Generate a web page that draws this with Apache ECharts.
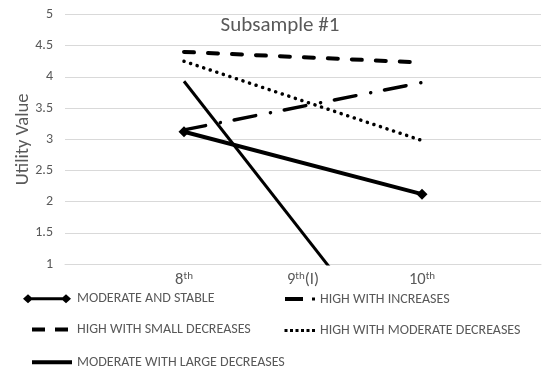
<!DOCTYPE html>
<html>
<head>
<meta charset="utf-8">
<script src="https://cdn.jsdelivr.net/npm/echarts@6/dist/echarts.min.js"></script>
<style>
  html, body { margin: 0; padding: 0; background: #ffffff; }
  #chart { width: 544px; height: 373px; }
</style>
</head>
<body>
<div id="chart"></div>
<script>
// Grades on the x axis
const grades = ['8th', '9th(I)', '10th'];

// Utility value per profile (9th grade not observed -> null, line joins 8th and 10th)
const moderateStable         = [3.12, null, 2.12];
const highIncreases          = [3.15, null, 3.91];
const highSmallDecreases     = [4.40, null, 4.23];
const highModerateDecreases  = [4.25, null, 2.98];
const moderateLargeDecreases = [3.93, null, -0.95];

const seriesNames = [
  'MODERATE AND STABLE',
  'HIGH WITH INCREASES',
  'HIGH WITH SMALL DECREASES',
  'HIGH WITH MODERATE DECREASES',
  'MODERATE WITH LARGE DECREASES'
];

// Value axis range
const yMin = 1, yMax = 5, yStep = 0.5;

const chartTitle = 'Subsample #1';
const yAxisTitle = 'Utility Value';

// ---- build the chart ----
const pad = v => [null, ...v, null];           // empty slots either side of the grades
const axisCats = ['', ...grades, ''];

const GRAY = '#595959';
const FONT = 'Carlito, "Liberation Sans", Arial, sans-serif';

// tiny corner specks so each legend icon keeps its full box
const box = (w, h) => `M0,0h0.01v0.01h-0.01Z M${w - 0.01},${h - 0.01}h0.01v0.01h-0.01Z `;
const icons = {
  stable: 'path://' + box(50, 14) +
    'M1,7 L6,2.5 L11,7 L6,11.5 Z M39,7 L44,2.5 L49,7 L44,11.5 Z M6,5.5 H44 V8.5 H6 Z',
  smallDec: 'path://' + box(50, 14) + 'M10,5 H23 V9 H10 Z M33,5 H46 V9 H33 Z',
  largeDec: 'path://' + box(50, 14) + 'M10,5 H50 V9 H10 Z',
  increases: 'path://' + box(31, 14) + 'M1,5 H19 V9 H1 Z M28,5.5 H31 V8.5 H28 Z',
  modDec: 'path://' + box(31, 14) +
    'M0.5,5.5h3v3h-3Z M6,5.5h3v3h-3Z M11.5,5.5h3v3h-3Z M17,5.5h3v3h-3Z M22.5,5.5h3v3h-3Z M28,5.5h3v3h-3Z'
};

function legendAt(name, icon, left, centerY, w) {
  return {
    data: [{ name: name, icon: icon }],
    left: left, top: centerY - 7,
    itemWidth: w, itemHeight: 14,
    padding: 0, selectedMode: false,
    textStyle: { color: GRAY, fontFamily: FONT, fontSize: 14 }
  };
}

// grade labels: number with a superscript ordinal
const rich = {
  n: { fontSize: 16.5, color: GRAY, fontFamily: FONT, lineHeight: 17 },
  s: { fontSize: 11, color: GRAY, fontFamily: FONT, verticalAlign: 'top', lineHeight: 12 }
};
function gradeLabel(value) {
  if (!value) return '';
  const m = value.match(/^(\d+)(th)(.*)$/);
  if (!m) return value;
  return `{n|${m[1]}}{s|${m[2]}}` + (m[3] ? `{n|${m[3]}}` : '');
}

const chart = echarts.init(document.getElementById('chart'), null, { renderer: 'canvas' });

chart.setOption({
  animation: false,
  backgroundColor: '#ffffff',
  title: {
    text: chartTitle,
    left: 280, top: 26,
    textAlign: 'center', textVerticalAlign: 'middle',
    padding: 0,
    textStyle: { color: GRAY, fontFamily: FONT, fontSize: 21, fontWeight: 'normal' }
  },
  grid: { left: 65, right: -9, top: 14.5, bottom: 109, containLabel: false },
  xAxis: {
    type: 'category',
    data: axisCats,
    boundaryGap: false,
    axisLine: { show: true, lineStyle: { color: '#d9d9d9', width: 1 } },
    axisTick: { show: false },
    axisLabel: { interval: 0, margin: 7, formatter: gradeLabel, rich: rich },
    splitLine: { show: false }
  },
  yAxis: {
    type: 'value',
    min: yMin, max: yMax, interval: yStep,
    name: yAxisTitle,
    nameLocation: 'middle',
    nameGap: 32,
    nameMoveOverlap: false,
    nameTextStyle: { color: GRAY, fontFamily: FONT, fontSize: 18.7 },
    axisLine: { show: false },
    axisTick: { show: false },
    axisLabel: { color: GRAY, fontFamily: FONT, fontSize: 14, margin: 12 },
    splitLine: { lineStyle: { color: '#d9d9d9', width: 1 } }
  },
  legend: [
    legendAt(seriesNames[0], icons.stable, 22, 298.8, 50),
    legendAt(seriesNames[2], icons.smallDec, 22, 329.5, 50),
    legendAt(seriesNames[4], icons.largeDec, 22, 362.2, 50),
    legendAt(seriesNames[1], icons.increases, 284, 299, 31),
    legendAt(seriesNames[3], icons.modDec, 284, 330.5, 31)
  ],
  series: [
    {
      name: seriesNames[4], type: 'line', data: pad(moderateLargeDecreases),
      connectNulls: true, symbol: 'none', clip: true,
      itemStyle: { color: '#000' },
      lineStyle: { color: '#000', width: 3 }
    },
    {
      name: seriesNames[0], type: 'line', data: pad(moderateStable),
      connectNulls: true, symbol: 'diamond', symbolSize: [11, 11], showSymbol: true,
      itemStyle: { color: '#000' },
      lineStyle: { color: '#000', width: 4 }
    },
    {
      name: seriesNames[1], type: 'line', data: pad(highIncreases),
      connectNulls: true, symbol: 'none',
      itemStyle: { color: '#000' },
      lineStyle: { color: '#000', width: 3.5, type: [22, 15, 0.1, 14], cap: 'round' }
    },
    {
      name: seriesNames[2], type: 'line', data: pad(highSmallDecreases),
      connectNulls: true, symbol: 'none',
      itemStyle: { color: '#000' },
      lineStyle: { color: '#000', width: 4, type: [10, 14], cap: 'round' }
    },
    {
      name: seriesNames[3], type: 'line', data: pad(highModerateDecreases),
      connectNulls: true, symbol: 'none',
      itemStyle: { color: '#000' },
      lineStyle: { color: '#000', width: 3.5, type: [0.1, 6.8], cap: 'round' }
    }
  ]
});
</script>
</body>
</html>
